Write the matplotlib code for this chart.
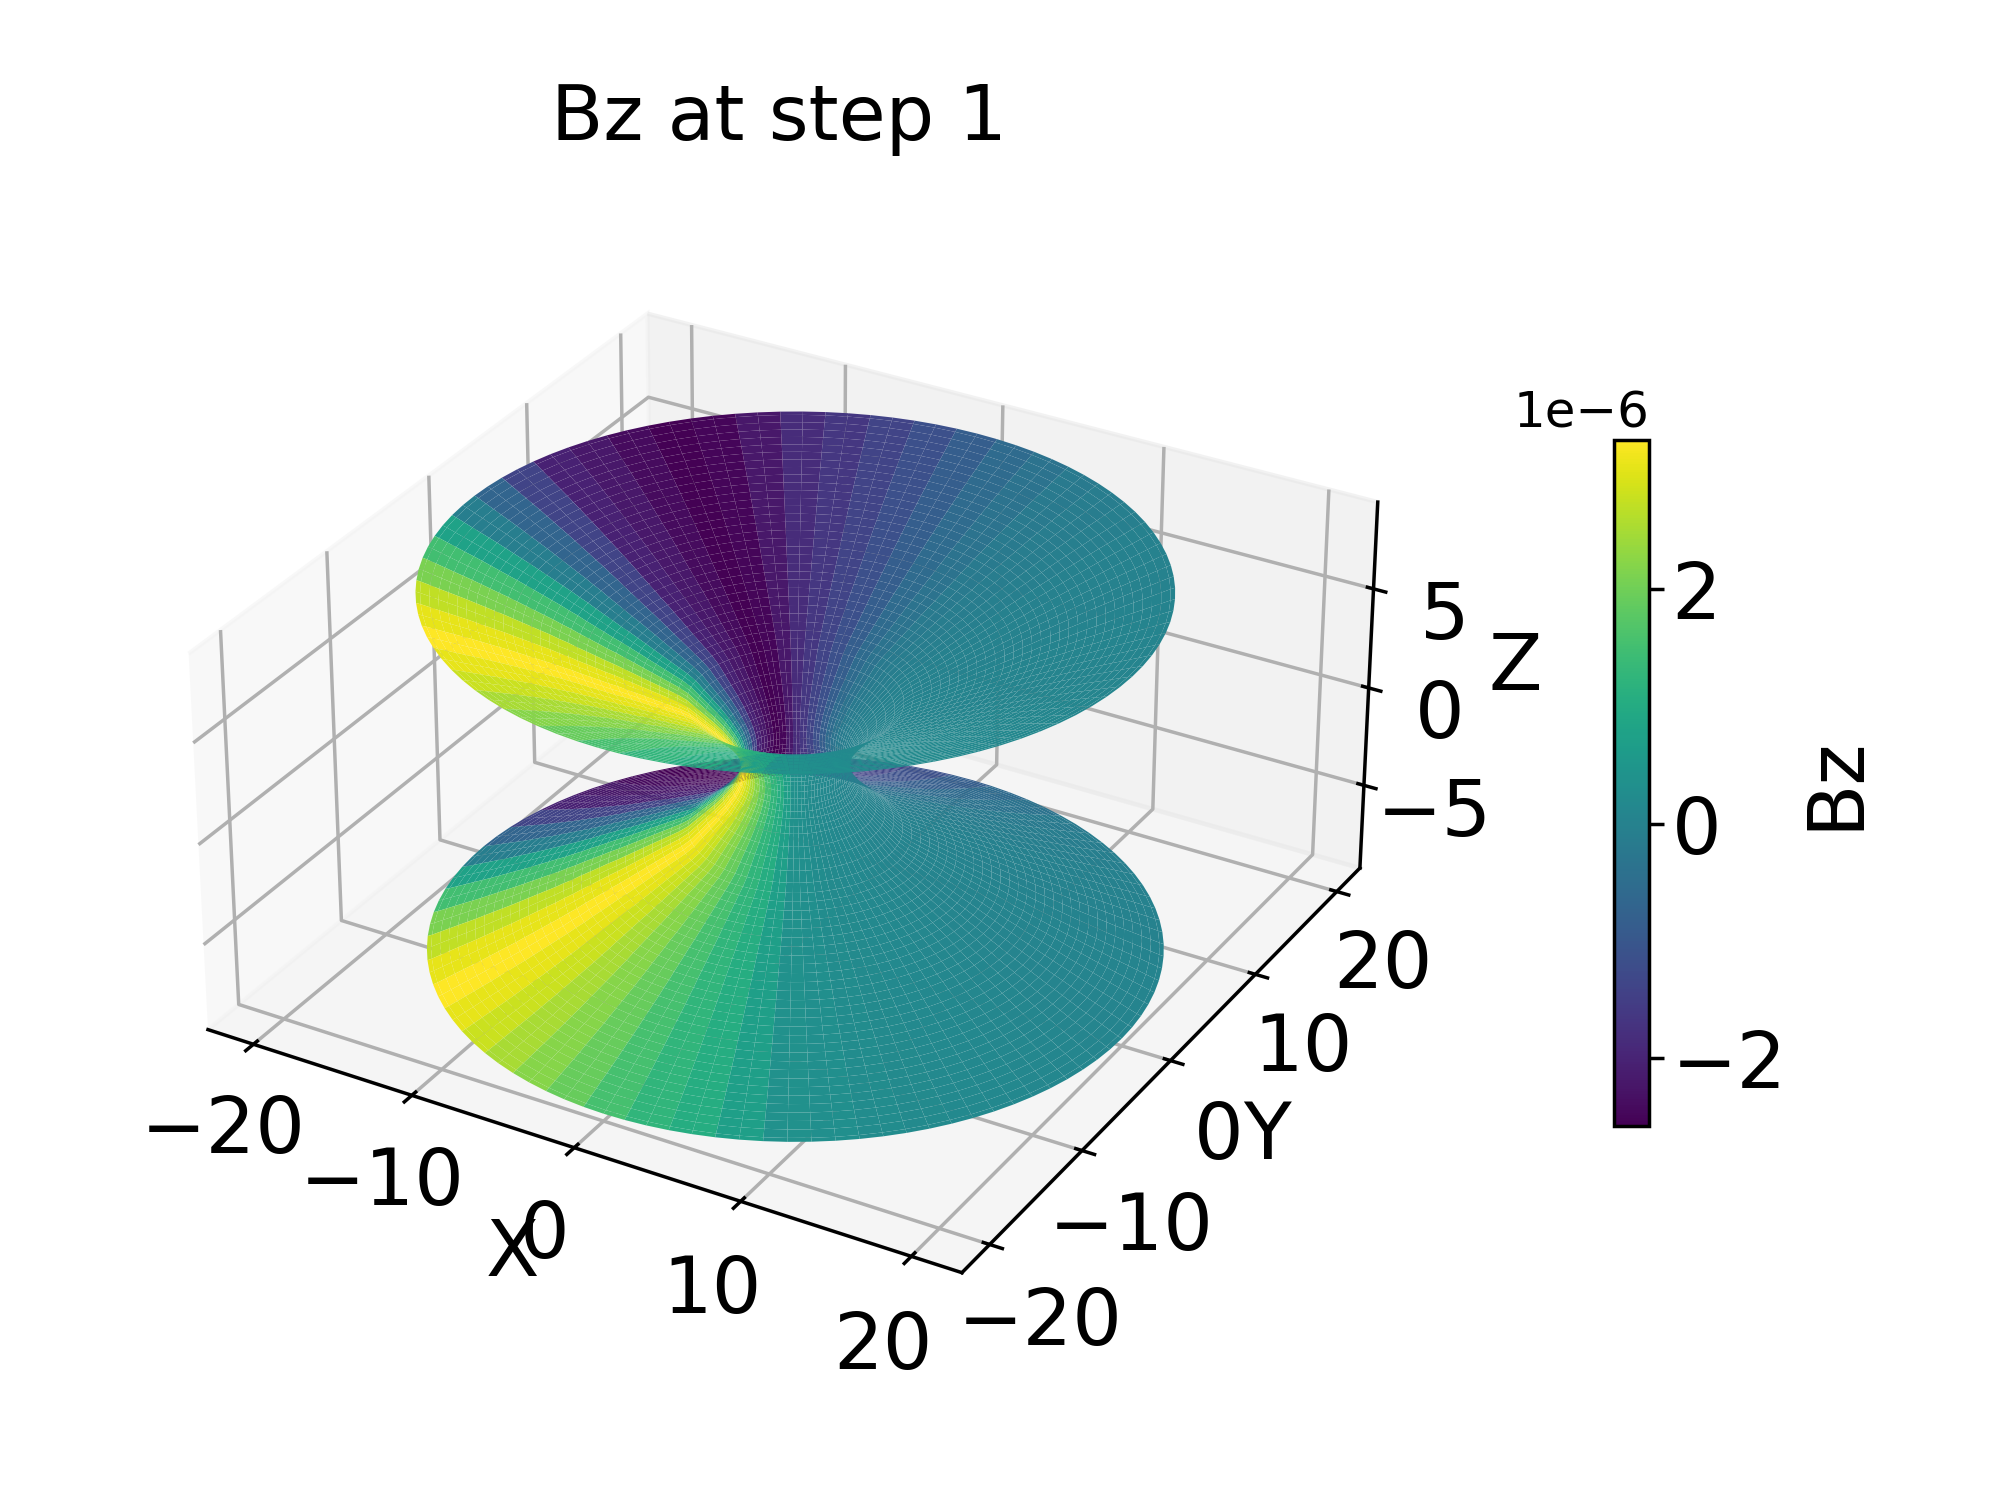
import numpy as np
import matplotlib
matplotlib.use("Agg")
import matplotlib.pyplot as plt

# throat profile, upper half (lower half is the mirror of it)
r_half = [2.89, 2.94, 3.04, 3.18, 3.37, 3.62, 3.86, 4.34, 4.82, 5.30, 5.78, 6.27, 6.75, 7.23,
          7.71, 8.19, 8.68, 9.16, 9.64, 10.12, 10.60, 11.09, 11.57, 12.05, 12.53, 13.01, 13.50,
          13.98, 14.46, 14.94, 15.42, 15.91, 16.39, 16.87, 17.35, 17.83, 18.32, 18.80, 19.28,
          19.76, 20.0]
z_half = [0.0, 0.32, 0.58, 0.85, 1.11, 1.38, 1.64, 2.06, 2.43, 2.80, 3.17, 3.44, 3.65, 3.86,
          4.07, 4.28, 4.50, 4.71, 4.92, 5.11, 5.32, 5.53, 5.73, 5.95, 6.14, 6.35, 6.54,
          6.73, 6.92, 7.11, 7.30, 7.48, 7.66, 7.84, 8.02, 8.19, 8.36, 8.53, 8.70,
          8.87, 8.94]

# Bz in units of 1e-6 for each of the 50 sectors, going round from phi = 0
bz_sector = [0.07, 0.06, 0.05, 0.04, 0.02, 0.0, -0.03, -0.07, -0.12, -0.2,
             -0.35, -0.55, -0.85, -1.15, -1.4, -1.65, -1.85, -2.2, -2.5, -2.58,
             -2.4, -2.2, -2.05, -1.4, -0.7, -0.1, 0.8, 1.5, 2.1, 2.7,
             3.05, 3.27, 3.05, 2.8, 2.5, 2.2, 1.9, 1.55, 1.25, 1.05,
             0.7, 0.35, 0.3, 0.25, 0.2, 0.17, 0.14, 0.12, 0.1, 0.08]

bz_min = -2.58e-6
bz_max = 3.27e-6

r_levels = np.concatenate([r_half[:0:-1], r_half])
z_levels = np.concatenate([-np.array(z_half[:0:-1]), z_half])

# each sector is cut in two so the rim stays round
bz_cells = np.repeat(bz_sector, 2)
phi = np.deg2rad(np.arange(len(bz_cells) + 1) * 360 / len(bz_cells))

phi_grid, r_grid = np.meshgrid(phi, r_levels)
x = r_grid * np.cos(phi_grid)
y = r_grid * np.sin(phi_grid)
z = np.tile(z_levels[:, None], (1, len(phi)))

bz = np.tile(bz_cells * 1e-6, (len(r_levels) - 1, 1))
norm = plt.Normalize(bz_min, bz_max)
colors = plt.cm.viridis(norm(bz))

fig = plt.figure(figsize=(6.4, 4.8))
ax = fig.add_axes([0.0775, 0.0633, 0.6235, 0.8313], projection="3d")
ax.set_box_aspect((2, 2, 1))
ax.plot_surface(x, y, z, facecolors=colors, rstride=1, cstride=1, linewidth=0,
                antialiased=True, shade=False)

ax.set_title("Bz at step 1", fontsize=17.6, x=0.5, y=1.103, pad=0)
ax.set_xlabel("X", fontsize=18, labelpad=-1)
ax.set_ylabel("Y", fontsize=18, labelpad=-2)
ax.set_zlabel("Z", fontsize=18, labelpad=-1.4)
ax.tick_params(labelsize=18, pad=1.5)

sm = plt.cm.ScalarMappable(cmap="viridis", norm=norm)
sm.set_array([])
cax = fig.add_axes([0.807, 0.2493, 0.0175, 0.4573])
cbar = fig.colorbar(sm, cax=cax)
cbar.set_label("Bz", fontsize=18, labelpad=2.5)
cbar.ax.tick_params(labelsize=18, pad=1.7)
cbar.ax.yaxis.get_offset_text().set_fontsize(11.5)

fig.savefig("out.png", dpi=312.5)
